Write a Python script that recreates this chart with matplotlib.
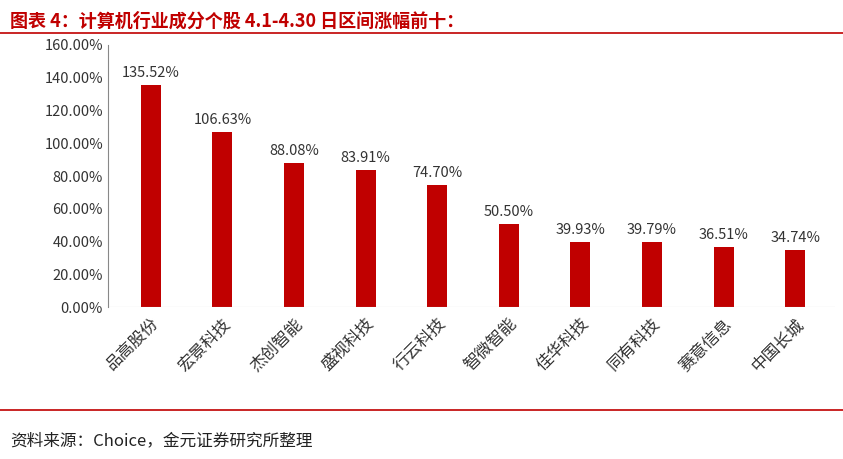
import matplotlib
matplotlib.use("Agg")
import matplotlib.pyplot as plt
from matplotlib.ticker import FuncFormatter

plt.rcParams['font.family'] = ['Noto Sans CJK SC', 'DejaVu Sans']

categories = ["品高股份", "宏景科技", "杰创智能", "盛视科技", "行云科技", "智微智能", "佳华科技", "同有科技", "赛意信息", "中国长城"]
values = [135.52, 106.63, 88.08, 83.91, 74.70, 50.50, 39.93, 39.79, 36.51, 34.74]

red = "#C00000"
fig = plt.figure(figsize=(8.43, 4.59), dpi=100)
ax = fig.add_axes([0.128, 0.331, 0.862, 0.571])
x = range(len(categories))
ax.bar(x, values, width=0.28, color=red)
for i, v in zip(x, values):
    ax.text(i, v + 3, f"{v:.2f}%", ha="center", va="bottom", fontsize=10.5, color="#333333")
ax.set_ylim(0, 160)
ax.set_yticks(range(0, 161, 20))
ax.yaxis.set_major_formatter(FuncFormatter(lambda v, p: f"{v:.2f}%"))
ax.set_xlim(-0.6, 9.55)
ax.set_xticks(list(x))
ax.set_xticklabels(categories, rotation=45, ha="right", rotation_mode="anchor", fontsize=12)
ax.tick_params(axis="y", labelsize=10.5, length=0, colors="#333333")
ax.tick_params(axis="x", length=0, colors="#333333", pad=6)
for s in ["top", "right", "bottom"]:
    ax.spines[s].set_visible(False)
ax.spines["left"].set_color("#888888")
ax.axhline(0, color="#bbbbbb", lw=0.8)

fig.text(0.012, 0.955, "图表 4：计算机行业成分个股 4.1-4.30 日区间涨幅前十：", color=red, fontsize=13, va="center", weight="bold")
fig.add_artist(plt.Line2D([0.0, 1.0], [0.928, 0.928], color=red, lw=1.2))
fig.add_artist(plt.Line2D([0.0, 1.0], [0.107, 0.107], color=red, lw=1.2))
fig.text(0.012, 0.04, "资料来源：Choice，金元证券研究所整理", fontsize=12, va="center", color="#222222")
fig.savefig("out.png", dpi=100)
